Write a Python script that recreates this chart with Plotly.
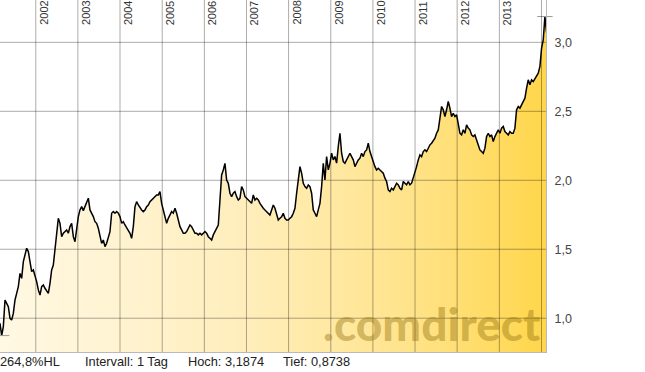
import pandas as pd
import plotly.graph_objects as go

# ---- data ----
start_date = "2001-02-25"
step_days = 14.442          # sampling cadence of the readings
end_date = "2014-02-09"

price = [
    0.963, 0.874, 0.939, 1.132, 1.108, 1.084, 0.999, 0.987, 1.035, 1.132,
    1.180, 1.229, 1.325, 1.289, 1.410, 1.471, 1.507, 1.483, 1.422, 1.338,
    1.350, 1.313, 1.265, 1.205, 1.168, 1.229, 1.241, 1.217, 1.193, 1.180,
    1.253, 1.350, 1.386, 1.495, 1.640, 1.724, 1.688, 1.591, 1.616, 1.628,
    1.640, 1.616, 1.664, 1.688, 1.591, 1.555, 1.652, 1.737, 1.785, 1.809,
    1.780, 1.809, 1.845, 1.870, 1.785, 1.761, 1.737, 1.700, 1.688, 1.652,
    1.604, 1.543, 1.567, 1.519, 1.543, 1.591, 1.628,
    1.761, 1.773, 1.761, 1.773, 1.761, 1.737, 1.688, 1.700, 1.676, 1.652,
    1.628, 1.616, 1.579, 1.664, 1.809, 1.845, 1.821, 1.797, 1.785, 1.773,
    1.785, 1.809, 1.821, 1.845, 1.857, 1.870, 1.882, 1.894, 1.894, 1.918,
    1.833, 1.785, 1.737, 1.688, 1.724, 1.749, 1.773, 1.761, 1.797, 1.761,
    1.712, 1.664, 1.640, 1.616, 1.616, 1.628, 1.652, 1.676, 1.664, 1.640,
    1.616, 1.616, 1.604, 1.616, 1.604, 1.616, 1.628, 1.616, 1.591, 1.579,
    1.567, 1.604, 1.628, 1.652, 1.676, 1.857,
    2.039, 2.075, 2.123, 2.002, 1.978, 1.906, 1.881, 1.906, 1.918, 1.881,
    1.857, 1.869, 1.954, 1.930, 1.881, 1.869, 1.857, 1.845, 1.833, 1.894,
    1.857, 1.869, 1.857, 1.833, 1.809, 1.797, 1.785, 1.773, 1.761, 1.748,
    1.785, 1.821, 1.797, 1.761, 1.712, 1.724, 1.736, 1.761, 1.724, 1.712,
    1.712, 1.724, 1.736, 1.761, 1.797, 1.906, 2.027, 2.099, 2.051, 1.978,
    1.954, 1.942, 1.966, 1.954, 1.906, 1.785, 1.761, 1.736, 1.785, 1.833,
    1.954, 2.123, 2.002, 2.172, 2.075, 2.123,
    2.196, 2.148, 2.172, 2.124, 2.245, 2.341, 2.196, 2.136, 2.124, 2.148,
    2.172, 2.196, 2.172, 2.148, 2.099, 2.124, 2.148, 2.160, 2.196, 2.172,
    2.208, 2.220, 2.269, 2.208, 2.172, 2.124, 2.099, 2.075, 2.087, 2.075,
    2.063, 2.051, 2.015, 1.991, 1.930, 1.918, 1.942, 1.930, 1.954, 1.979,
    1.967, 1.942, 1.930, 1.991, 1.979, 1.967, 1.991, 1.967, 1.979, 2.015,
    2.051, 2.099, 2.148, 2.184, 2.172, 2.208, 2.220, 2.208, 2.232, 2.257,
    2.269, 2.293, 2.305, 2.341, 2.365, 2.450,
    2.535, 2.511, 2.462, 2.511, 2.571, 2.523, 2.462, 2.486, 2.462, 2.474,
    2.390, 2.341, 2.329, 2.366, 2.341, 2.402, 2.378, 2.366, 2.329, 2.317,
    2.329, 2.293, 2.257, 2.220, 2.208, 2.196, 2.233, 2.317, 2.341, 2.317,
    2.329, 2.281, 2.317, 2.341, 2.366, 2.341, 2.378, 2.390, 2.353, 2.341,
    2.329, 2.353, 2.341, 2.341, 2.378, 2.511, 2.535, 2.523, 2.547, 2.559,
    2.595, 2.668, 2.728, 2.692, 2.728, 2.716, 2.740, 2.752, 2.777, 2.825,
    2.958, 3.018, 3.187, 3.070,
]

grid_years = ["2002", "2003", "2004", "2005", "2006", "2007", "2008",
              "2009", "2010", "2011", "2012", "2013", "2014"]
year_labels = ["2002", "2003", "2004", "2005", "2006", "2007", "2008",
               "2009", "2010", "2011", "2012", "2013"]
y_ticks = [1.0, 1.5, 2.0, 2.5, 3.0]
info_texts = ["264,8%HL", "Intervall: 1 Tag", "Hoch: 3,1874", "Tief: 0,8738"]
watermark = ".comdirect"

# ---- figure ----
dates = pd.date_range(start_date, periods=len(price), freq=pd.Timedelta(days=step_days))

W, H = 645, 372
ML, MR, MT, MB = 0, 99, 0, 20
PW = W - ML - MR
PH = H - MT - MB

FONT = "Liberation Sans, Arial, sans-serif"
GRID = "rgba(0,0,0,0.33)"

fig = go.Figure()
fig.add_trace(go.Scatter(
    x=dates, y=price, mode="lines",
    line=dict(color="#000000", width=1.5),
    fill="tozeroy",
    fillgradient=dict(type="horizontal",
                      colorscale=[[0.0, "#fff8e4"], [0.45, "#ffeebc"],
                                  [0.75, "#ffe38a"], [1.0, "#ffd64a"]]),
    hoverinfo="skip",
))

s = pd.Series(price, index=dates)
hi_d, lo_d = s.idxmax(), s.idxmin()
fig.add_trace(go.Scatter(
    x=[hi_d, lo_d], y=[s.max(), s.min()], mode="markers",
    marker=dict(symbol="line-ew", size=11, line=dict(color="#9a9a9a", width=1)),
    cliponaxis=False, hoverinfo="skip",
))

shapes = []
for yr in grid_years:
    shapes.append(dict(type="line", xref="x", yref="paper",
                       x0=f"{yr}-01-01", x1=f"{yr}-01-01", y0=0, y1=1,
                       line=dict(color=GRID, width=1), layer="above"))
for v in y_ticks:
    shapes.append(dict(type="line", xref="paper", yref="y",
                       x0=0, x1=1, y0=v, y1=v,
                       line=dict(color=GRID, width=1), layer="above"))

annotations = []
for yr in year_labels:
    annotations.append(dict(
        text=yr, x=f"{yr}-01-01", xref="x", y=1, yref="paper",
        xanchor="left", yanchor="top", textangle=-90, showarrow=False,
        xshift=0, yshift=1, font=dict(family=FONT, size=11, color="#333333")))

info_px = [0, 85, 188, 283]
for t, px in zip(info_texts, info_px):
    annotations.append(dict(
        text=t, x=px / PW, xref="paper", y=0, yref="paper",
        xanchor="left", yanchor="middle", yshift=-9, xshift=-2, showarrow=False,
        font=dict(family=FONT, size=12.8, color="#222222")))

annotations.append(dict(
    text=watermark, x=322 / PW, xref="paper", y=0, yref="paper",
    xanchor="left", yanchor="bottom", yshift=0, showarrow=False, borderpad=0,
    font=dict(family="Lato", size=46, weight=900, color="rgba(145,112,15,0.42)")))

fig.update_layout(
    width=W, height=H,
    margin=dict(l=ML, r=MR, t=MT, b=MB, pad=0),
    paper_bgcolor="white", plot_bgcolor="white",
    showlegend=False, separators=",.",
    shapes=shapes, annotations=annotations,
    xaxis=dict(type="date", range=[start_date, end_date], showgrid=False,
               showticklabels=False, ticks="", zeroline=False,
               showline=True, linecolor="#b8b8c0", linewidth=1),
    yaxis=dict(side="right", range=[0.755, 3.307], tickvals=y_ticks,
               tickformat=".1f", showgrid=False, zeroline=False, ticks="",
               ticklabelstandoff=5, showline=True, linecolor="#b8b8c0", linewidth=1,
               tickfont=dict(family=FONT, size=12.5, color="#444444")),
)

fig.write_html("out.html", config={"displayModeBar": False},
               post_script="document.body.style.margin='0px';")
